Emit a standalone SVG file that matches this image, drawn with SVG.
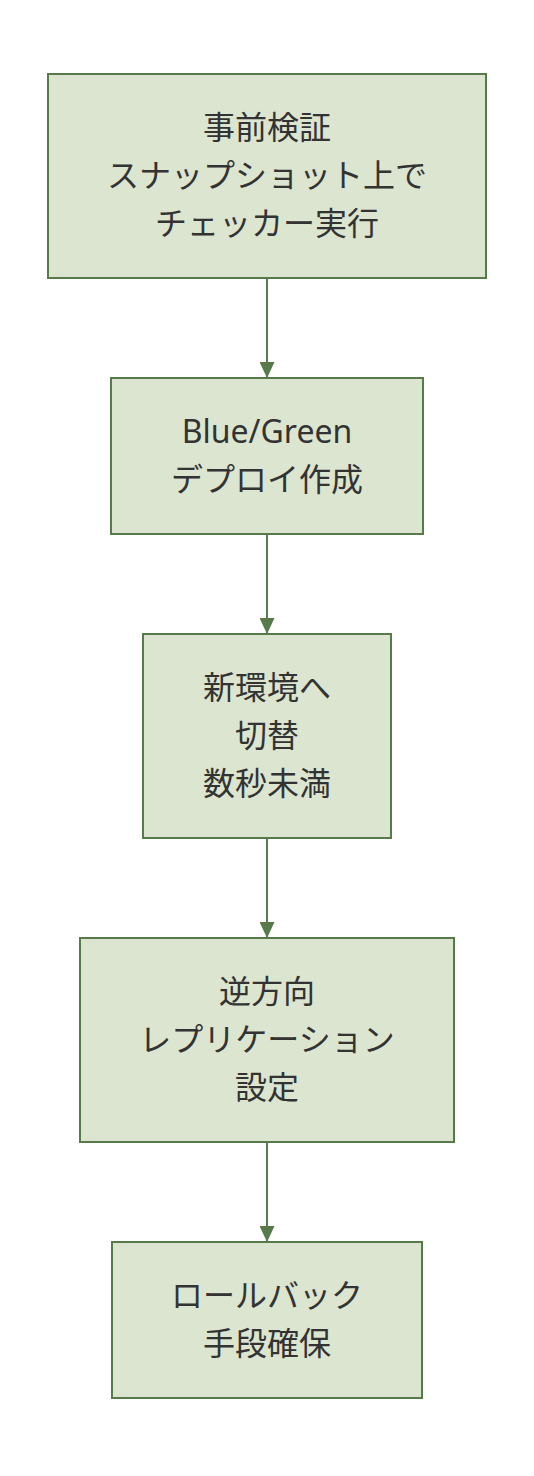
<svg xmlns="http://www.w3.org/2000/svg" width="534" height="1476" viewBox="0 0 534 1476">
<style>
.node rect{fill:#dce5cf;stroke:#577a4b;stroke-width:2}
.node text{font-family:"Noto Sans","Noto Sans CJK JP",sans-serif;font-size:32px;fill:#333;text-anchor:middle}
.edge{stroke:#577a4b;stroke-width:2;fill:none;marker-end:url(#arr)}
</style>
<defs>
<marker id="arr" viewBox="0 0 16 15" refX="16" refY="7.5" markerWidth="16" markerHeight="15" markerUnits="userSpaceOnUse" orient="auto">
<path d="M0,0 L16,7.5 L0,15 Z" fill="#577a4b"/>
</marker>
</defs>
<g id="edges">
<line class="edge" x1="267" y1="278" x2="267" y2="378"/>
<line class="edge" x1="267" y1="534" x2="267" y2="634"/>
<line class="edge" x1="267" y1="838" x2="267" y2="938"/>
<line class="edge" x1="267" y1="1142" x2="267" y2="1242"/>
</g>
<g id="n1" class="node">
<rect x="48" y="74" width="438" height="204"/>
<text x="267" y="139">事前検証</text>
<text x="267" y="187">スナップショット上で</text>
<text x="267" y="235">チェッカー実行</text>
</g>
<g id="n2" class="node">
<rect x="111" y="378" width="312" height="156"/>
<text x="267" y="443">Blue/Green</text>
<text x="267" y="491">デプロイ作成</text>
</g>
<g id="n3" class="node">
<rect x="143" y="634" width="248" height="204"/>
<text x="267" y="699">新環境へ</text>
<text x="267" y="747">切替</text>
<text x="267" y="795">数秒未満</text>
</g>
<g id="n4" class="node">
<rect x="80" y="938" width="374" height="204"/>
<text x="267" y="1003">逆方向</text>
<text x="267" y="1051">レプリケーション</text>
<text x="267" y="1099">設定</text>
</g>
<g id="n5" class="node">
<rect x="112" y="1242" width="310" height="156"/>
<text x="267" y="1307">ロールバック</text>
<text x="267" y="1355">手段確保</text>
</g>
</svg>
